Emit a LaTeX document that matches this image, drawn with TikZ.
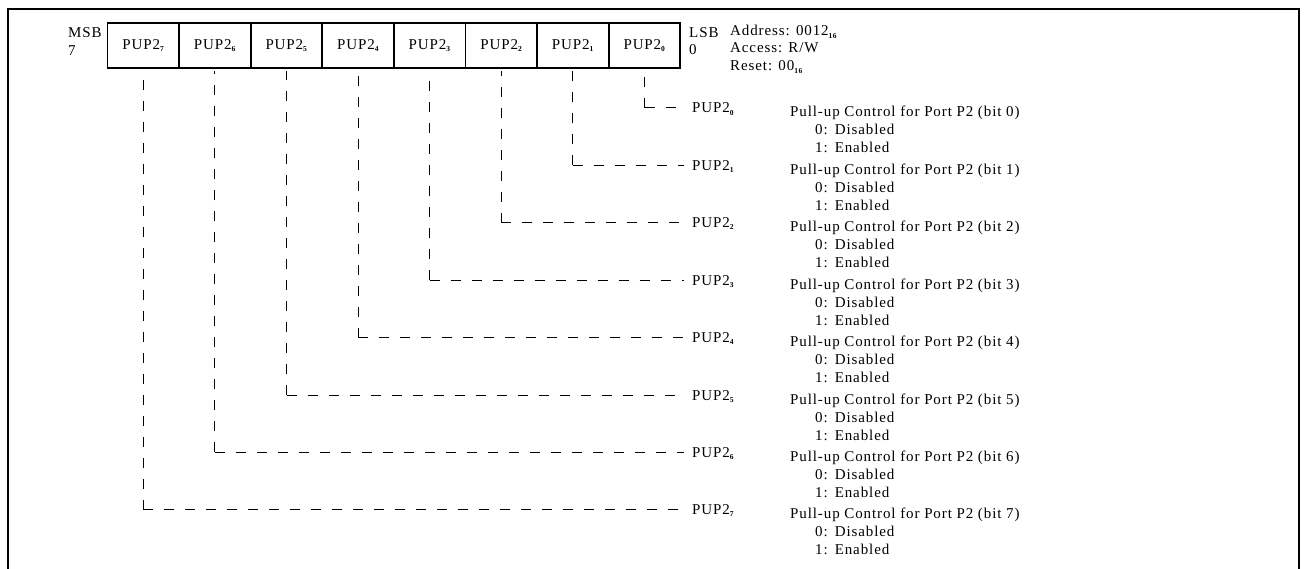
\documentclass[tikz,border=0pt]{standalone}
\usepackage{fontspec}
\setmainfont{Liberation Serif}[LetterSpace=6]
\usetikzlibrary{positioning}

\newcommand{\bitsub}[1]{\textsubscript{\fontsize{7.5}{7.5}\selectfont\bfseries #1}}

\tikzset{
  cellbox/.style={draw, line width=1.8pt, minimum width=71.6pt,
                  minimum height=45pt, inner sep=0pt},
  dashline/.style={line width=1pt, dash pattern=on 10pt off 11pt},
  txt/.style={inner sep=0pt, anchor=base west},
}

\begin{document}
\begin{tikzpicture}[x=1pt, y=-1pt, font=\fontsize{15}{18}\selectfont]
    \useasboundingbox (0,0) rectangle (1305,569);

    % Rahmen
    \draw[line width=2.4pt] (8,569) -- (8,9) -- (1299,9) -- (1299,569);

    % Registerfelder
    \foreach \b in {0,...,7} {
        \node[cellbox] (c\b) at ({143.3+(7-\b)*71.6}, 45.5) {PUP2\bitsub{\b}};
    }

    % MSB / LSB
    \node[txt] (msb) at (68,38) {MSB};
    \node[txt] (msbn) at (68,56) {7};
    \node[txt] (lsb) at (689,38) {LSB};
    \node[txt] (lsbn) at (689,55) {0};

    % Registerdaten
    \node[txt] (addr) at (730,36) {Address: 0012\bitsub{16}};
    \node[txt] (acc) at (730,53) {Access: R/W};
    \node[txt] (rst) at (730,71) {Reset: 00\bitsub{16}};

    % Bitbeschreibungen
    \foreach \b in {0,...,7} {
        \node[txt] (l\b) at (692, {108+57.4*\b+5}) {PUP2\bitsub{\b}};
        \coordinate (k\b) at (c\b.south |- 0, {108+57.4*\b});
        \draw[dashline, shorten >=2pt] (k\b) -- (c\b.south);
        \draw[dashline, shorten >=8pt] (k\b) -- (k\b -| l\b.west);
        \node[txt] (p\b) at (790, {108+57.4*\b+9}) {Pull-up Control for Port P2 (bit \b)};
        \node[txt] (z\b) at (815, {108+57.4*\b+27}) {0:\hspace{7pt}Disabled};
        \node[txt] (o\b) at (815, {108+57.4*\b+45}) {1:\hspace{7pt}Enabled};
    }

\end{tikzpicture}
\end{document}
